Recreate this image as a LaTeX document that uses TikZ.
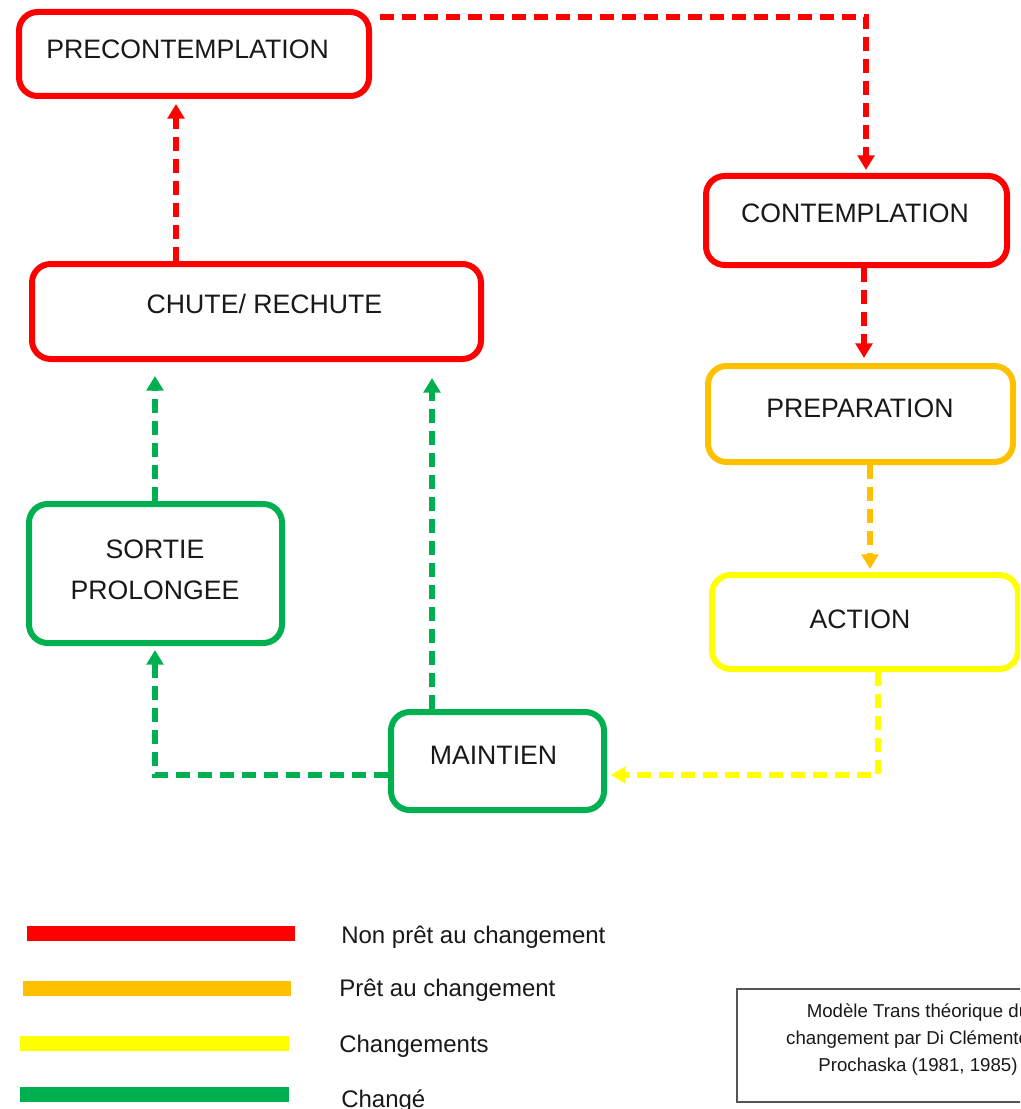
\documentclass[tikz,border=0pt]{standalone}
\usepackage{fontspec}
\setmainfont{Liberation Sans}
\usetikzlibrary{arrows.meta,calc}
\definecolor{cred}{HTML}{FF0000}
\definecolor{corange}{HTML}{FFC000}
\definecolor{cyellow}{HTML}{FFFF00}
\definecolor{cgreen}{HTML}{00B050}
\definecolor{notegray}{HTML}{555555}
\begin{document}
\begin{tikzpicture}[x=0.75pt,y=-0.75pt,
  stagebox/.style={draw=#1, line width=4.5pt, rounded corners=14pt, fill=white, inner sep=0pt},
  lbl/.style={font=\fontsize{20}{24}\selectfont, inner sep=0pt, text=black!90},
  leg/.style={font=\fontsize{18}{22}\selectfont, inner sep=0pt, anchor=base west, text=black!90},
  flow/.style={draw=#1, line width=4pt, dash pattern=on 10.5pt off 6pt,
               -{Triangle[length=11pt,width=12.5pt]}},
]
\useasboundingbox (0,0) rectangle (1020,1109);
\clip (0,0) rectangle (1020,1109);
\fill[white] (0,0) rectangle (1020,1109);

% stage boxes
\node[stagebox=cred, minimum width=262.5pt, minimum height=63pt] (pre) at (194,54) {};
\node[stagebox=cred, minimum width=225.75pt, minimum height=66.75pt] (cont) at (856.5,220.5) {};
\node[stagebox=corange, minimum width=228.75pt, minimum height=72pt] (prep) at (860.5,414) {};
\node[stagebox=cyellow, minimum width=229.5pt, minimum height=70.5pt] (action) at (865,622) {};
\node[stagebox=cred, minimum width=336.75pt, minimum height=71.25pt] (chute) at (256.5,311.5) {};
\node[stagebox=cgreen, minimum width=189.75pt, minimum height=104.25pt] (sortie) at (155.5,573.5) {};
\node[stagebox=cgreen, minimum width=159.75pt, minimum height=73.5pt] (maint) at (497.5,761) {};

% stage labels
\node[lbl] (pre-t) at (187.5,49) {PRECONTEMPLATION};
\node[lbl] (cont-t) at (855,213) {CONTEMPLATION};
\node[lbl] (prep-t) at (860,408) {PREPARATION};
\node[lbl] (action-t) at (860,619) {ACTION};
\node[lbl] (chute-t) at (264.5,304) {CHUTE/ RECHUTE};
\node[lbl] (sortie-t1) at (155,549) {SORTIE};
\node[lbl] (sortie-t2) at (155,590) {PROLONGEE};
\node[lbl] (maint-t) at (493.5,755) {MAINTIEN};

% connectors
\draw[flow=cred] ($(pre.north east)+(8,8)$) -| ($(cont.north)+(9.5,-3)$);
\draw[flow=cred] ($(chute.north)+(-80.5,0)$) -- ($(pre.south)+(-18,5)$);
\draw[flow=cred] ($(cont.south)+(7.5,0)$) -- ($(prep.north)+(3.5,-5)$);
\draw[flow=corange] ($(prep.south)+(9.5,0)$) -- ($(action.north)+(5,-3)$);
\draw[flow=cyellow] ($(action.south)+(13,0)$) |- ($(maint.east)+(4,14)$);
\draw[flow=cgreen] ($(maint.west)+(0,14)$) -| ($(sortie.south)+(-0.5,4)$);
\draw[flow=cgreen] ($(sortie.north)+(-0.5,0)$) -- ($(chute.south)+(-101.5,14)$);
\draw[flow=cgreen] ($(maint.north)+(-65.5,0)$) -- ($(chute.south)+(175.5,16)$);

% legend
\fill[cred] (27,926) rectangle (295,941);
\fill[corange] (23,981) rectangle (291,996);
\fill[cyellow] (20,1036) rectangle (289,1051);
\fill[cgreen] (20,1087) rectangle (289,1102);
\node[leg] (leg1) at (341,943) {Non prêt au changement};
\node[leg] (leg2) at (339,996) {Prêt au changement};
\node[leg] (leg3) at (339,1052) {Changements};
\node[leg] (leg4) at (341,1107) {Changé};

% note box
\node[draw=notegray, line width=1.1pt, minimum width=272.25pt, minimum height=84.75pt, inner sep=0pt] (note) at (918.5,1045.5) {};
\node[font=\fontsize{14}{20.25}\selectfont, align=center, inner sep=0pt, text=black!90] (note-t) at (918,1040)
  {Modèle Trans théorique du\\changement par Di Clémente et\\Prochaska (1981, 1985)};
\end{tikzpicture}
\end{document}
